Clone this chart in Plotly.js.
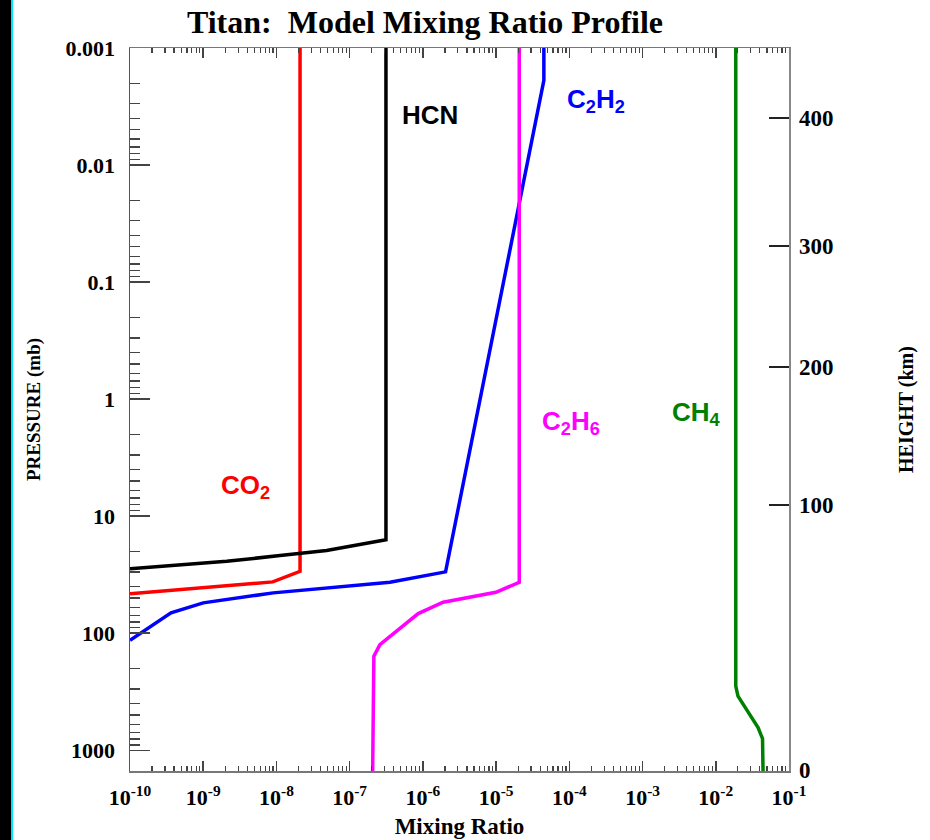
<!DOCTYPE html>
<html>
<head>
<meta charset="utf-8">
<script src="https://cdn.plot.ly/plotly-3.0.1.min.js"></script>
<style>
  html, body { margin: 0; padding: 0; background: #ffffff; }
  #wrap { position: relative; width: 930px; height: 840px; }
  #chart { position: absolute; left: 0; top: 0; width: 930px; height: 840px; }
  #stripBlack { position: absolute; left: 0; top: 0; width: 11px; height: 840px; background: #000; z-index: 10; }
  #stripCyan { position: absolute; left: 11px; top: 0; width: 2px; height: 840px; background: #00e5ff; z-index: 10; }
</style>
</head>
<body>
<div id="wrap">
  <div id="chart"></div>
  <div id="stripBlack"></div>
  <div id="stripCyan"></div>
</div>
<script>
// ---- Data (mixing ratio vs pressure in mb) ----
const co2_x  = [1e-10, 8.9e-9, 2.1e-8, 2.1e-8];
const co2_p  = [46.1, 36.4, 29.6, 0.001];

const hcn_x  = [1e-10, 2.09e-9, 1.12e-8, 4.84e-8, 3.13e-7, 3.13e-7];
const hcn_p  = [28.1, 24.3, 21.7, 19.6, 15.9, 0.001];

const c2h2_x = [1e-10, 3.63e-10, 1.0e-9, 9.04e-9, 3.55e-7, 2.04e-6, 4.49e-5, 4.49e-5];
const c2h2_p = [115, 67.0, 55.0, 45.2, 36.7, 29.9, 0.00189, 0.001];

const c2h6_x = [2.06e-7, 2.10e-7, 2.14e-7, 2.59e-7, 8.63e-7, 1.89e-6, 9.93e-6, 2.07e-5, 2.07e-5];
const c2h6_p = [1510, 185, 157, 125, 67.9, 54.3, 44.7, 36.7, 0.001];

const ch4_x  = [0.0442, 0.0435, 0.0378, 0.0276, 0.0201, 0.01875, 0.01875];
const ch4_p  = [1510, 796, 641, 478, 345, 283, 0.001];

// ---- Tick labels ----
const xTickExps    = [-10, -9, -8, -7, -6, -5, -4, -3, -2, -1];
const yTickLabels  = ["0.001", "0.01", "0.1", "1", "10", "100", "1000"];
const yTickValues  = [0.001, 0.01, 0.1, 1, 10, 100, 1000];
const heightKm     = [0, 100, 200, 300, 400];
const heightPress  = [1483, 8.05, 0.532, 0.0492, 0.00398];   // pressure (mb) at each height

// ---- Build tick configs ----
const xTickVals = xTickExps.map(e => Math.pow(10, e));
const xTickText = xTickExps.map(e => "<b>10<sup>" + e + "</sup></b>");
function minorVals(eFrom, eTo) {
  const out = [];
  for (let e = eFrom; e < eTo; e++) for (let m = 2; m <= 9; m++) out.push(m * Math.pow(10, e));
  return out;
}
const xMinor = minorVals(-10, -1);
const yMinor = minorVals(-3, 4);

const serif = "Liberation Serif, Times New Roman, serif";
const sans = "Liberation Sans, Arial, sans-serif";

function line(x, y, color) {
  return { x: x, y: y, type: "scatter", mode: "lines", line: { color: color, width: 3.5 },
           hoverinfo: "skip", showlegend: false };
}

const traces = [
  line(co2_x, co2_p, "#ff0000"),
  line(hcn_x, hcn_p, "#000000"),
  line(c2h2_x, c2h2_p, "#0000ff"),
  line(c2h6_x, c2h6_p, "#ff00ff"),
  line(ch4_x, ch4_p, "#008000"),
  { x: [1e-5], y: [1], type: "scatter", mode: "markers", yaxis: "y2",
    marker: { opacity: 0 }, hoverinfo: "skip", showlegend: false }
];

const tickFont = { family: serif, size: 22, color: "#000", weight: "bold" };
const yRange = [Math.log10(1503), -3];

function ann(text, lx, lp, color) {
  return { text: text, x: lx, y: lp, xref: "x", yref: "y", showarrow: false,
           font: { family: sans, size: 26, color: color, weight: "bold" } };
}

const layout = {
  width: 930, height: 840,
  margin: { l: 130, r: 141, t: 48, b: 69 },
  paper_bgcolor: "#ffffff", plot_bgcolor: "#ffffff",
  title: { text: "<b>Titan:  Model Mixing Ratio Profile</b>", x: 0.457, xref: "container", xanchor: "center",
           y: 0.974, yref: "container", yanchor: "middle",
           font: { family: serif, size: 32, color: "#000" } },
  xaxis: {
    type: "log", range: [-10, -1], autorange: false,
    tickmode: "array", tickvals: xTickVals, ticktext: xTickText,
    ticks: "inside", ticklen: 10, tickwidth: 1.5, tickcolor: "#444",
    minor: { tickmode: "array", tickvals: xMinor, ticks: "inside", ticklen: 5, tickwidth: 1.2, tickcolor: "#444", showgrid: false },
    showline: true, linecolor: "#777", linewidth: 1.5, mirror: "ticks",
    showgrid: false, zeroline: false,
    tickfont: tickFont, ticklabelstandoff: 6,
    title: { text: "<b>Mixing Ratio</b>", font: { family: serif, size: 23, color: "#000" }, standoff: 9 }
  },
  yaxis: {
    type: "log", range: yRange, autorange: false,
    tickmode: "array", tickvals: yTickValues, ticktext: yTickLabels,
    ticks: "inside", ticklen: 20, tickwidth: 1.5, tickcolor: "#444",
    minor: { tickmode: "array", tickvals: yMinor, ticks: "inside", ticklen: 10, tickwidth: 1.2, tickcolor: "#444", showgrid: false },
    showline: true, linecolor: "#555", linewidth: 1.5, mirror: false,
    showgrid: false, zeroline: false,
    tickfont: tickFont, ticklabelstandoff: 9,
    title: { text: "<b>PRESSURE (mb)</b>", font: { family: serif, size: 19, color: "#000" }, standoff: 20 }
  },
  yaxis2: {
    type: "log", range: yRange, autorange: false, overlaying: "y", side: "right",
    tickmode: "array", tickvals: heightPress, ticktext: heightKm.map(String),
    ticks: "inside", ticklen: 20, tickwidth: 2, tickcolor: "#222",
    showline: true, linecolor: "#888", linewidth: 1.5,
    showgrid: false, zeroline: false,
    tickfont: { family: serif, size: 23, color: "#000", weight: "bold" }, ticklabelstandoff: 4,
    title: { text: "<b>HEIGHT (km)</b>", font: { family: serif, size: 20, color: "#000" }, standoff: 66 }
  },
  annotations: [
    ann("HCN", -5.904, -2.426, "#000000"),
    ann("C<sub>2</sub>H<sub>2</sub>", -3.638, -2.554, "#0000ff"),
    ann("CO<sub>2</sub>", -8.416, 0.748, "#ff0000"),
    ann("C<sub>2</sub>H<sub>6</sub>", -3.979, 0.202, "#ff00ff"),
    ann("CH<sub>4</sub>", -2.259, 0.125, "#008000")
  ]
};

Plotly.newPlot("chart", traces, layout, { displayModeBar: false, staticPlot: true });
</script>
</body>
</html>
